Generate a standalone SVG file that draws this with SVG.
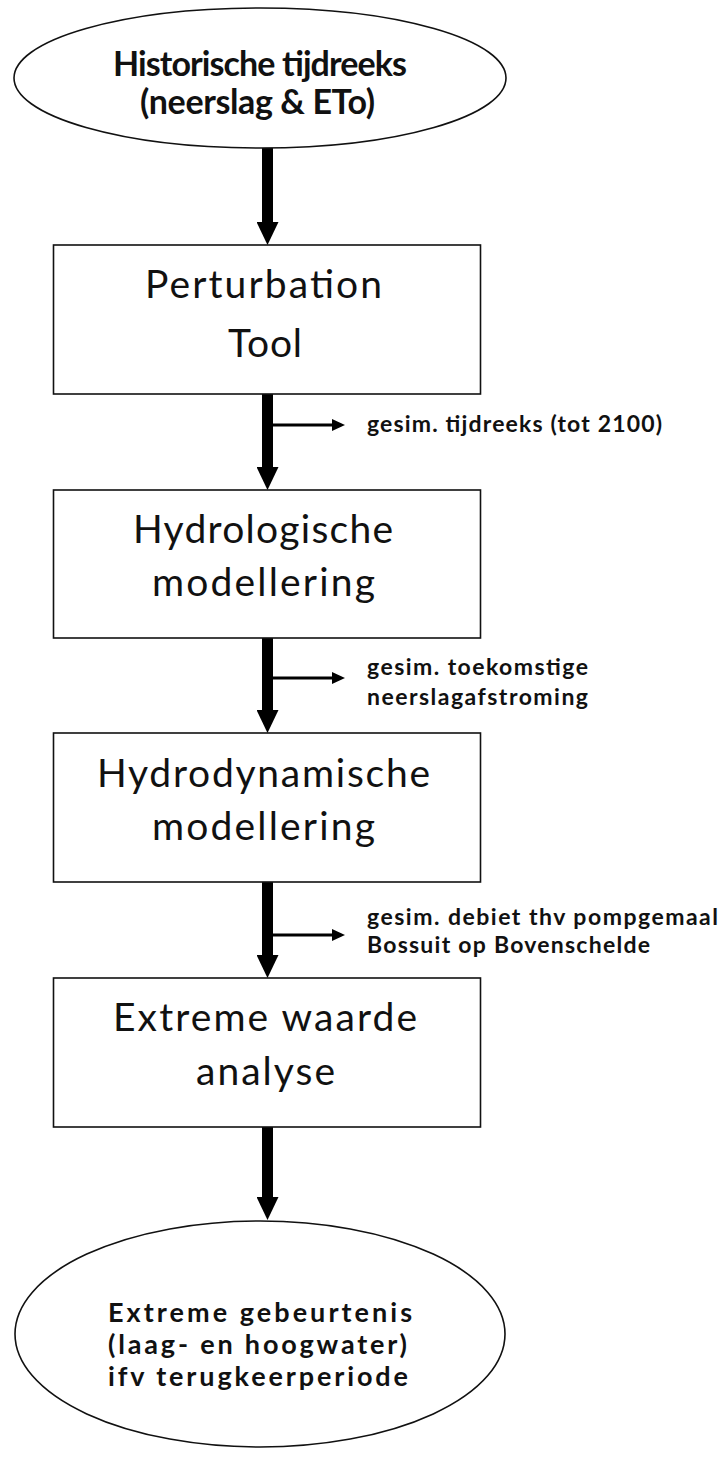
<svg xmlns="http://www.w3.org/2000/svg" width="725" height="1459" viewBox="0 0 725 1459">
<style>
.shape{fill:#fff;stroke:#111;stroke-width:1.6}
.t{font-family:Lato,"Liberation Sans",Arial,sans-serif;fill:#111}
.tb{font-weight:bold}
.big{font-size:39px}
.ell1{font-size:34px}
.ell2{font-size:27px}
.side{font-size:23px}
.main{stroke:#000;stroke-width:11;fill:none}
.aux{stroke:#000;stroke-width:3;fill:none}
</style>
<defs>
<marker id="bigHead" markerUnits="userSpaceOnUse" viewBox="0 0 23 22" refX="0" refY="11" markerWidth="23" markerHeight="22" orient="auto">
<path d="M0,0 L23,11 L0,22 Z" fill="#000"/>
</marker>
<marker id="smallHead" markerUnits="userSpaceOnUse" viewBox="0 0 13 12" refX="0" refY="6" markerWidth="13" markerHeight="12" orient="auto">
<path d="M0,0 L13,6 L0,12 Z" fill="#000"/>
</marker>
</defs>
<rect x="0" y="0" width="725" height="1459" fill="#fff"/>

<g id="connectors">
<line class="main" x1="267.5" y1="148" x2="267.5" y2="222" marker-end="url(#bigHead)"/>
<line class="main" x1="267.5" y1="394" x2="267.5" y2="467" marker-end="url(#bigHead)"/>
<line class="main" x1="267.5" y1="638" x2="267.5" y2="710" marker-end="url(#bigHead)"/>
<line class="main" x1="267.5" y1="882" x2="267.5" y2="955" marker-end="url(#bigHead)"/>
<line class="main" x1="267.5" y1="1127" x2="267.5" y2="1197" marker-end="url(#bigHead)"/>
<line class="aux" x1="273" y1="425" x2="332" y2="425" marker-end="url(#smallHead)"/>
<line class="aux" x1="273" y1="678" x2="332" y2="678" marker-end="url(#smallHead)"/>
<line class="aux" x1="273" y1="935" x2="332" y2="935" marker-end="url(#smallHead)"/>
<text class="t tb side" x="367" y="432" textLength="295">gesim. tijdreeks (tot 2100)</text>
<text class="t tb side" x="367" y="675" textLength="221">gesim. toekomstige</text>
<text class="t tb side" x="367" y="705" textLength="221">neerslagafstroming</text>
<text class="t tb side" x="367" y="925" textLength="351">gesim. debiet thv pompgemaal</text>
<text class="t tb side" x="367" y="953" textLength="283">Bossuit op Bovenschelde</text>
</g>

<g id="node-historisch">
<ellipse class="shape" cx="260" cy="78" rx="246" ry="70"/>
<text class="t tb ell1" x="113" y="76" textLength="294">Historische tijdreeks</text>
<text class="t tb ell1" x="140" y="114" textLength="235">(neerslag &amp; ETo)</text>
</g>

<g id="node-perturbation">
<rect class="shape" x="53.5" y="245" width="427" height="149"/>
<text class="t big" x="145" y="298" textLength="237">Perturbation</text>
<text class="t big" x="228" y="357" textLength="74">Tool</text>
</g>

<g id="node-hydrologisch">
<rect class="shape" x="53.5" y="490" width="427" height="148"/>
<text class="t big" x="133" y="543" textLength="260">Hydrologische</text>
<text class="t big" x="152" y="596" textLength="223">modellering</text>
</g>

<g id="node-hydrodynamisch">
<rect class="shape" x="53.5" y="733" width="427" height="149"/>
<text class="t big" x="97" y="787" textLength="333">Hydrodynamische</text>
<text class="t big" x="152" y="840" textLength="223">modellering</text>
</g>

<g id="node-extreme-waarde">
<rect class="shape" x="53.5" y="978" width="427" height="149"/>
<text class="t big" x="113" y="1031" textLength="304">Extreme waarde</text>
<text class="t big" x="196" y="1085" textLength="139">analyse</text>
</g>

<g id="node-extreme-gebeurtenis">
<ellipse class="shape" cx="260" cy="1334" rx="245" ry="113"/>
<text class="t tb ell2" x="108" y="1322" textLength="304">Extreme gebeurtenis</text>
<text class="t tb ell2" x="108" y="1354" textLength="299">(laag- en hoogwater)</text>
<text class="t tb ell2" x="108" y="1386" textLength="300">ifv terugkeerperiode</text>
</g>
</svg>
